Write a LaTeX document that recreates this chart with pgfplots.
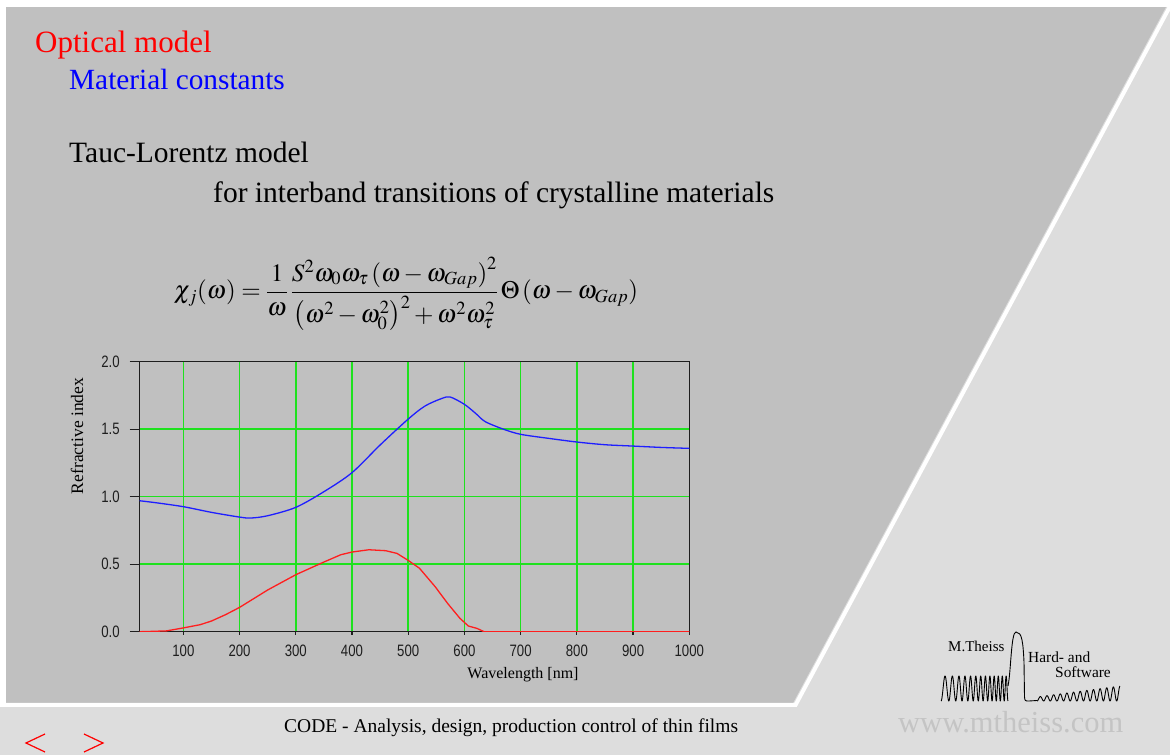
\documentclass[border=0pt]{standalone}
\usepackage{mathptmx}
\usepackage{fontspec}
\usepackage{pgfplots}
\pgfplotsset{compat=1.18}
\setmainfont{Liberation Serif}
\newfontfamily\ticksans[FakeStretch=0.8]{Liberation Sans}

\definecolor{darkbg}{RGB}{192,192,192}
\definecolor{lightbg}{RGB}{221,221,221}
\definecolor{gridgreen}{RGB}{30,225,30}
\definecolor{framec}{RGB}{30,30,30}
\definecolor{nblue}{RGB}{30,30,255}
\definecolor{kred}{RGB}{255,30,30}
\definecolor{wwwgray}{RGB}{196,196,196}

\begin{document}
\begin{tikzpicture}
\path[use as bounding box] (0,0) rectangle (1170pt,755pt);
\fill[white] (0,0) rectangle (1170pt,755pt);

% slide background, drawn in pixel-like units with y pointing down
\begin{scope}[x=1pt,y=-1pt,shift={(0pt,755pt)}]
  \fill[lightbg] (0,7) rectangle (1170,755);
  \fill[white] (0,7) rectangle (6,707);
  \fill[darkbg] (6,7) -- (1166,7) -- (793,703) -- (6,703) -- cycle;
  \draw[white, line width=4pt] (6,705) -- (795.5,705) -- (1171.8,3);
  \fill[white] (0,0) rectangle (1170,7);

  % headings
  \node[anchor=base west, inner sep=0, text=red]
    at (35,53) {\fontsize{31}{31}\selectfont Optical model};
  \node[anchor=base west, inner sep=0, text=blue]
    at (69,90) {\fontsize{29.3}{30}\selectfont Material constants};
  \node[anchor=base west, inner sep=0]
    at (69,163) {\fontsize{29.5}{30}\selectfont Tauc-Lorentz model};
  \node[anchor=base west, inner sep=0]
    at (213,203) {\fontsize{29.5}{30}\selectfont for interband transitions of crystalline materials};

  % Tauc-Lorentz susceptibility
  \node[anchor=center, inner sep=0] at (406,294) {\fontsize{25}{25}\selectfont
    $\displaystyle \chi_j(\omega)=\frac{1}{\omega}\,
     \frac{S^2\omega_0\omega_\tau\left(\omega-\omega_{Gap}\right)^2}
          {\left(\omega^2-\omega_0^2\right)^2+\omega^2\omega_\tau^2}\,
     \Theta\left(\omega-\omega_{Gap}\right)$};

  % footer
  \node[anchor=base west, inner sep=0]
    at (284,733) {\fontsize{19.5}{20}\selectfont CODE - Analysis, design, production control of thin films};
  \draw[red, line width=1.2pt] (45,734) -- (26,743) -- (45,752);
  \draw[red, line width=1.2pt] (84,734) -- (103,743) -- (84,752);
  \node[anchor=base west, inner sep=0, text=wwwgray]
    at (898,733) {\fontsize{30.5}{31}\selectfont www.mtheiss.com};

  % logo
  \node[anchor=base west, inner sep=0] at (948,652) {\fontsize{15}{15}\selectfont M.Theiss};
  \node[anchor=base west, inner sep=0] at (1028,663) {\fontsize{15.4}{15}\selectfont Hard- and};
  \node[anchor=base west, inner sep=0] at (1055,678) {\fontsize{15.4}{15}\selectfont Software};
  \draw[black, line width=0.9pt, line join=round]
    plot[domain=0:1, samples=500] ({941+67*\x}, {688.5+12.5*cos(360*(8*\x+5*\x*\x))});
  \draw[black, line width=0.9pt]
    (1008,686) .. controls (1011,672) and (1011,632) .. (1016,632)
    .. controls (1022,632) and (1023,642) .. (1024,662) -- (1024.5,697)
    .. controls (1025,701) .. (1029,701) -- (1037,700.5);
  \draw[black, line width=0.9pt, line join=round]
    plot[domain=0:1, samples=400] ({1037+83*\x}, {701-(4+11*\x)*(1-cos(360*12.5*\x))/2});
\end{scope}

\begin{axis}[
  at={(139.5pt,123.3pt)}, anchor=south west,
  scale only axis, width=549.8pt, height=270pt,
  xmin=22, xmax=1000, ymin=0, ymax=2,
  xtick={100,200,...,1000}, ytick={0,0.5,...,2},
  tick pos=left, tick align=outside,
  xtick style={/pgfplots/major tick length=3pt, line width=1.2pt, color=framec},
  ytick style={/pgfplots/major tick length=10pt, line width=1.2pt, color=framec},
  grid=major,
  major grid style={color=gridgreen, line width=1.5pt},
  axis line style={line width=1.3pt, color=framec},
  /pgf/number format/assume math mode=true,
  /pgf/number format/set thousands separator={},
  yticklabel style={/pgf/number format/fixed, /pgf/number format/fixed zerofill,
    /pgf/number format/precision=1, xshift=-12pt},
  xticklabel style={yshift=-5pt},
  tick label style={font=\ticksans\fontsize{16.5}{16.5}\selectfont, text=framec},
  xlabel={Wavelength [nm]},
  ylabel={Refractive index},
  xlabel style={at={(rel axis cs:0.6975,-0.158)}, anchor=center,
    font=\fontsize{16}{16}\selectfont},
  ylabel style={at={(rel axis cs:-0.1137,0.7248)}, anchor=center,
    font=\fontsize{17.5}{17.5}\selectfont},
]
% refractive index n
\addplot[nblue, line width=1.3pt, smooth, tension=0.5] coordinates {
  (22,0.970) (50,0.956) (100,0.926) (150,0.884) (200,0.849) (220,0.842)
  (250,0.859) (300,0.921) (350,1.037) (400,1.178) (450,1.383) (500,1.575)
  (530,1.672) (560,1.728) (575,1.738) (600,1.684) (620,1.617) (637,1.556)
  (670,1.499) (700,1.462) (750,1.432) (800,1.405) (850,1.385) (900,1.375)
  (950,1.365) (1000,1.358)
};
% extinction coefficient k
\addplot[kred, line width=1.3pt] coordinates {
  (22,0) (40,0.002) (70,0.006) (100,0.028) (130,0.052) (150,0.079)
  (175,0.126) (200,0.180) (250,0.309) (300,0.422) (350,0.516) (380,0.570)
  (400,0.590) (430,0.607) (460,0.600) (480,0.580) (500,0.528) (520,0.470)
  (548,0.333) (570,0.210) (592,0.099) (607,0.042) (622,0.025) (635,0)
  (1000,0)
};
\end{axis}
\end{tikzpicture}
\end{document}
